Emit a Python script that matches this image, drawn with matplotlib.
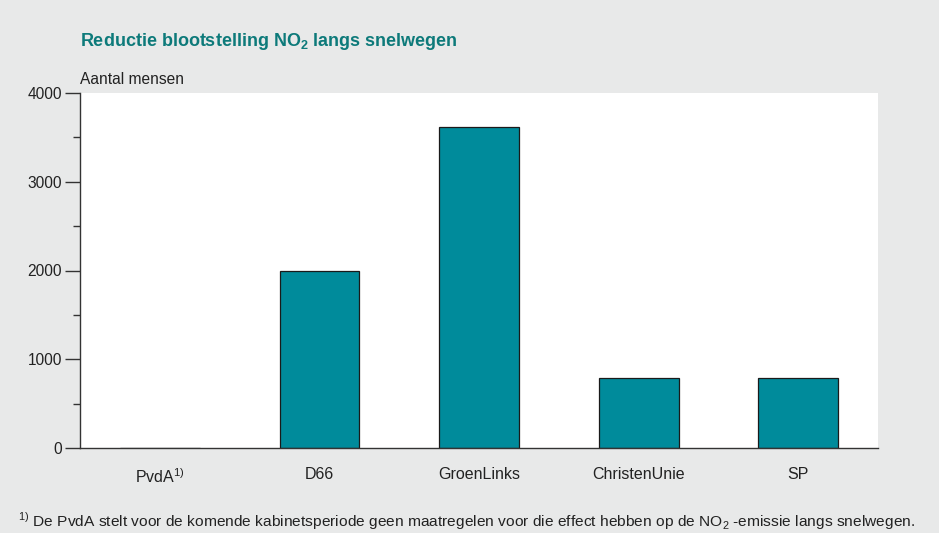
import matplotlib
matplotlib.use("Agg")
import matplotlib.pyplot as plt
from matplotlib.ticker import MultipleLocator

categories = ["PvdA$^{\\mathregular{1)}}$", "D66", "GroenLinks", "ChristenUnie", "SP"]
values = [0, 2000, 3620, 790, 790]
yticks = [0, 1000, 2000, 3000, 4000]

plt.rcParams["font.family"] = ["Liberation Sans", "DejaVu Sans"]
plt.rcParams["mathtext.fontset"] = "custom"
plt.rcParams["mathtext.rm"] = "Liberation Sans"

bg = "#e8e9e9"
bar_color = "#008b9b"
title_color = "#0d7a7a"
text_color = "#222222"

fig = plt.figure(figsize=(9.39, 5.33), dpi=100, facecolor=bg)
ax = fig.add_axes([80/939, 1-448/533, (878-80)/939, (448-93)/533])
ax.set_facecolor("white")

x = list(range(len(categories)))
ax.bar(x, values, width=0.5, color=bar_color, edgecolor="#1a1a1a", linewidth=0.9)

ax.set_xlim(-0.5, 4.5)
ax.set_ylim(0, 4000)
ax.set_yticks(yticks)
ax.set_yticklabels([str(v) for v in yticks])
ax.yaxis.set_minor_locator(MultipleLocator(500))
ax.set_xticks(x)
ax.set_xticklabels(categories)
ax.tick_params(axis="x", length=0, pad=14, labelsize=11.5, labelcolor=text_color)
ax.tick_params(axis="y", which="major", length=11, width=1, color="#333333", pad=2,
               labelsize=11.2, labelcolor=text_color)
ax.tick_params(axis="y", which="minor", length=5, width=1, color="#333333")
for s in ["top", "right"]:
    ax.spines[s].set_visible(False)
for s in ["left", "bottom"]:
    ax.spines[s].set_color("#333333")
    ax.spines[s].set_linewidth(1)

fig.text(80/939, 1-42/533, "Reductie blootstelling NO$_\\mathregular{2}$ langs snelwegen",
         fontsize=13, fontweight="bold", color=title_color,
         va="center", ha="left")
fig.text(80/939, 1-80/533, "Aantal mensen", fontsize=11.2, color=text_color, va="center", ha="left")
fig.text(18/939, 1-521/533,
         "$^{\\mathregular{1)}}$ De PvdA stelt voor de komende kabinetsperiode geen maatregelen voor die effect hebben op de NO$_\\mathregular{2}$ -emissie langs snelwegen.",
         fontsize=11.15, color=text_color, va="center", ha="left")

fig.savefig("out.png", dpi=100, facecolor=bg)
